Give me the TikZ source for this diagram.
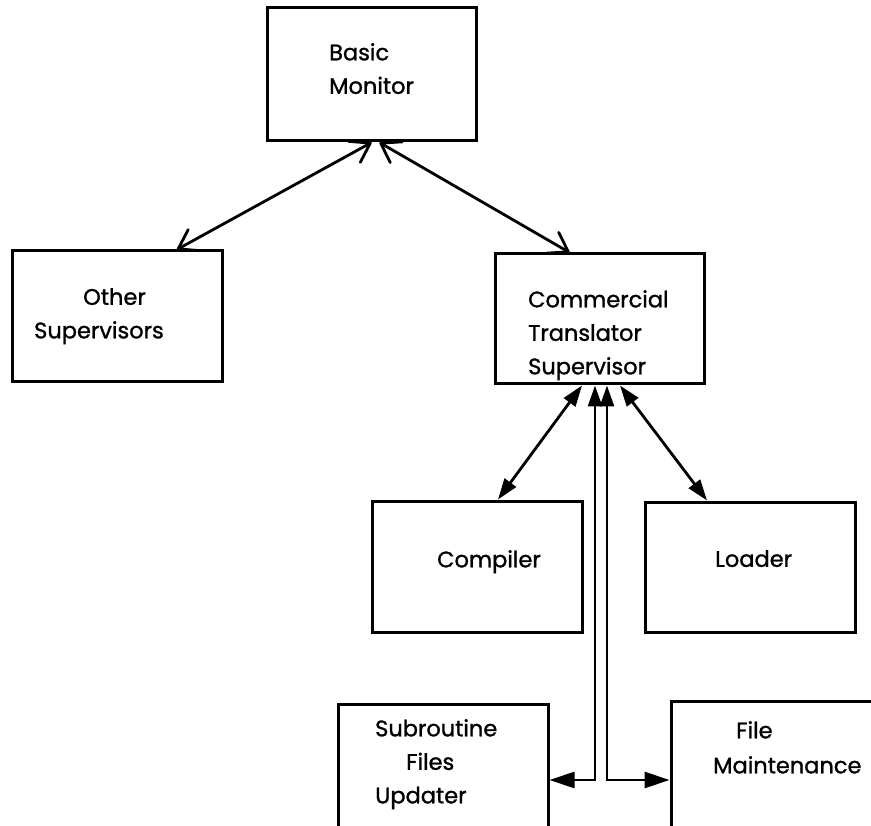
\documentclass[tikz,border=0pt]{standalone}
\usepackage{fontspec}
\setmainfont{Poppins}[FakeBold=1.2]
\usetikzlibrary{arrows.meta}
\tikzset{
  box/.style={draw, rectangle, line width=3pt, inner sep=0pt, minimum width=#1},
  box/.default=210pt,
  txt/.style={anchor=north west, inner sep=0pt, align=left,
    font=\fontsize{22.5}{33.5}\selectfont},
  conn/.style={line width=2.8pt},
  barb/.tip={Straight Barb[length=18pt,width=24pt,round]},
  head/.tip={Triangle[length=21pt,width=14pt]},
  bighead/.tip={Triangle[length=25pt,width=16pt]},
  openarr/.style={conn, barb-barb},
  fillarr/.style={conn, head-head},
  elbowarr/.style={conn, head-bighead},
}
\begin{document}
\begin{tikzpicture}[x=1pt,y=1pt]
\clip (0,0) rectangle (871,-826);
\fill[white] (0,0) rectangle (871,-826);
% boxes
\node[box=209pt, minimum height=133pt] (bm) at (371.5,-74.5) {};
\node[box, minimum height=131pt] (os) at (117,-316.5) {};
\node[box=209pt, minimum height=130pt] (cts) at (599.5,-319) {};
\node[box, minimum height=131pt] (comp) at (477,-566.5) {};
\node[box, minimum height=130pt] (load) at (750,-567) {};
\node[box, minimum height=196pt] (sub) at (443,-802) {};
\node[box, minimum height=199pt] (fm) at (776,-800.5) {};
% texts
\node[txt] (bmt) at (329,-43) {Basic\\Monitor};
\node[txt] (ost) at (34,-288) {\hspace{49pt}Other\\Supervisors};
\node[txt] (ctst) at (528,-290) {Commercial\\Translator\\Supervisor};
\node[txt] (compt) at (437,-550) {Compiler};
\node[txt] (loadt) at (715,-550) {Loader};
\node[txt] (subt) at (375,-719) {Subroutine\\\hspace{31pt}Files\\Updater};
\node[txt, font=\fontsize{22.5}{35}\selectfont] (fmt) at (713,-721) {\hspace{23pt}File\\Maintenance};
% connectors
\draw[openarr] ([xshift=60pt]os.north) -- (bm.south);
\draw[openarr] ([xshift=8pt]bm.south) -- ([xshift=-30pt]cts.north);
\draw[fillarr] ([xshift=-17.5pt]cts.south) -- ([xshift=21pt]comp.north);
\draw[fillarr] ([xshift=20.5pt]cts.south) -- ([xshift=-43pt]load.north);
\draw[elbowarr] ([xshift=-4.5pt]cts.south) |- ([yshift=22pt]sub.east);
\draw[elbowarr] ([xshift=7.5pt]cts.south) |- ([yshift=20.5pt]fm.west);
\end{tikzpicture}
\end{document}
